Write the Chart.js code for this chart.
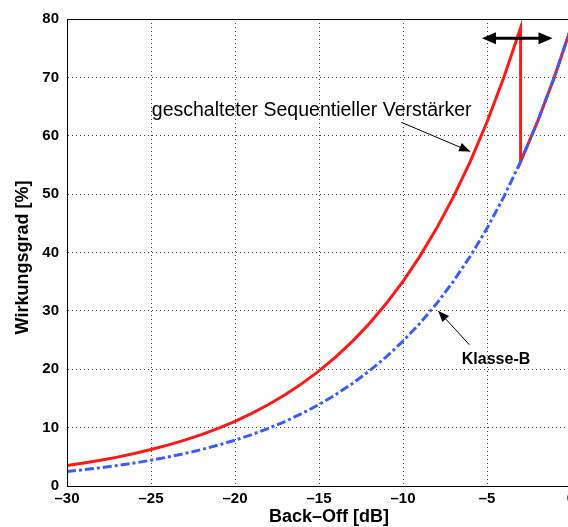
<!DOCTYPE html>
<html>
<head>
<meta charset="utf-8">
<script src="https://cdn.jsdelivr.net/npm/chart.js@4/dist/chart.umd.min.js"></script>
<style>
  html, body { margin: 0; padding: 0; background: #fff; overflow: hidden; }
</style>
</head>
<body>
<canvas id="chart" width="580" height="527"></canvas>
<script>
// Back-off in dB and efficiency in %
const backOffB = [-30, -29, -28, -27, -26, -25, -24, -23, -22, -21, -20, -19, -18, -17, -16, -15,
	-14, -13, -12, -11, -10, -9, -8, -7, -6, -5, -4, -3, -2, -1, 0]
const klasseB = [2.48, 2.79, 3.13, 3.51, 3.93, 4.41, 4.95, 5.56, 6.24, 7.00, 7.85, 8.81, 9.88, 11.09, 12.44, 13.96,
	15.66, 17.58, 19.72, 22.12, 24.82, 27.85, 31.25, 35.07, 39.34, 44.14, 49.53, 55.57, 62.35, 69.97, 78.5]

const backOffSeq = [-30, -29, -28, -27, -26, -25, -24, -23, -22, -21, -20, -19, -18, -17, -16, -15,
	-14, -13, -12, -11, -10, -9, -8, -7, -6, -5, -4, -3, -3, -2, -1, 0]
const sequentiell = [3.51, 3.93, 4.41, 4.95, 5.56, 6.24, 7.00, 7.85, 8.81, 9.88, 11.09, 12.44, 13.96, 15.66, 17.58, 19.72,
	22.12, 24.82, 27.85, 31.25, 35.07, 39.34, 44.14, 49.53, 55.57, 62.35, 69.97, 78.5, 55.57, 62.35, 69.97, 78.5]

const xTicks = [-30, -25, -20, -15, -10, -5, 0]
const yTicks = [0, 10, 20, 30, 40, 50, 60, 70, 80]

const xTitle = 'Back\u2013Off [dB]'
const yTitle = 'Wirkungsgrad [%]'

// annotations (data coordinates)
const labelSeq = { text: 'geschalteter Sequentieller Verstärker', x: -24.95, y: 63.4 }
const arrowSeq = [[-10.1, 62.3], [-6.0, 57.3]]
const labelB = { text: 'Klasse-B', x: -6.5, y: 20.9 }
const arrowB = [[-6.05, 24.2], [-7.9, 30.0]]
const rangeArrow = [[-5.3, 76.7], [-1.1, 76.7]]

const toPts = (xs, ys) => xs.map((x, i) => ({ x, y: ys[i] }))

function arrowHead(ctx, x1, y1, x2, y2, len, half) {
	const a = Math.atan2(y2 - y1, x2 - x1)
	ctx.beginPath()
	ctx.moveTo(x2, y2)
	ctx.lineTo(x2 - len * Math.cos(a) + half * Math.sin(a), y2 - len * Math.sin(a) - half * Math.cos(a))
	ctx.lineTo(x2 - len * Math.cos(a) - half * Math.sin(a), y2 - len * Math.sin(a) + half * Math.cos(a))
	ctx.closePath()
	ctx.fill()
}

const overlay = {
	id: 'overlay',
	afterDatasetsDraw(chart) {
		const { ctx, chartArea: ca, scales } = chart
		const px = (v) => scales.x.getPixelForValue(v)
		const py = (v) => scales.y.getPixelForValue(v)
		ctx.save()
		// frame
		ctx.strokeStyle = '#000'
		ctx.lineWidth = 1
		ctx.strokeRect(Math.round(ca.left) + 0.5, Math.round(ca.top) + 0.5, Math.round(ca.right - ca.left), Math.round(ca.bottom - ca.top))

		ctx.fillStyle = '#000'
		// range arrow
		let [a, b] = rangeArrow
		const ax1 = px(a[0]), ay1 = py(a[1]), ax2 = px(b[0]), ay2 = py(b[1])
		ctx.lineWidth = 3
		ctx.beginPath()
		ctx.moveTo(ax1 + 8, ay1)
		ctx.lineTo(ax2 - 8, ay2)
		ctx.stroke()
		arrowHead(ctx, ax2, ay2, ax1, ay1, 14, 6)
		arrowHead(ctx, ax1, ay1, ax2, ay2, 14, 6)

		// thin arrows
		ctx.lineWidth = 1
		for (const [p, q] of [arrowSeq, arrowB]) {
			const x1 = px(p[0]), y1 = py(p[1]), x2 = px(q[0]), y2 = py(q[1])
			ctx.beginPath()
			ctx.moveTo(x1, y1)
			ctx.lineTo(x2, y2)
			ctx.stroke()
			arrowHead(ctx, x1, y1, x2, y2, 11, 4.5)
		}

		// labels
		ctx.textBaseline = 'alphabetic'
		ctx.textAlign = 'left'
		ctx.font = '19.5px "Liberation Sans", Arial, sans-serif'
		ctx.fillText(labelSeq.text, px(labelSeq.x), py(labelSeq.y))
		ctx.font = 'bold 16px "Liberation Sans", Arial, sans-serif'
		ctx.fillText(labelB.text, px(labelB.x), py(labelB.y))

		// axis titles
		ctx.font = 'bold 18px "Liberation Sans", Arial, sans-serif'
		ctx.textAlign = 'center'
		ctx.fillText(xTitle, (ca.left + ca.right) / 2 + 10, ca.bottom + 36)
		ctx.translate(28, (ca.top + ca.bottom) / 2 + 5)
		ctx.rotate(-Math.PI / 2)
		ctx.fillText(yTitle, 0, 0)
		ctx.restore()
	},
}

const tickFont = { family: '"Liberation Sans", Arial, sans-serif', size: 15, weight: 'bold' }

new Chart(document.getElementById('chart'), {
	type: 'line',
	data: {
		datasets: [
			{
				label: 'Klasse-B',
				data: toPts(backOffB, klasseB),
				borderColor: '#3a5cff',
				borderWidth: 3,
				borderDash: [9, 3, 3, 3],
				pointRadius: 0,
				tension: 0,
			},
			{
				label: 'geschalteter Sequentieller Verstärker',
				data: toPts(backOffSeq, sequentiell),
				borderColor: '#ff1a1a',
				borderWidth: 3,
				pointRadius: 0,
				tension: 0,
			},
		],
	},
	options: {
		responsive: false,
		animation: false,
		layout: { padding: { top: 19, right: 9, bottom: 0, left: 0 } },
		plugins: { legend: { display: false }, tooltip: { enabled: false } },
		scales: {
			x: {
				type: 'linear',
				min: -30,
				max: 0,
				afterBuildTicks: (s) => { s.ticks = xTicks.map((v) => ({ value: v })) },
				afterFit: (s) => { s.height = 41 },
				ticks: {
					font: tickFont,
					color: '#000',
					padding: 4,
					callback: (v) => (v < 0 ? '\u2013' + Math.abs(v) : String(v)),
				},
				grid: { color: 'rgba(0,0,0,0.75)', lineWidth: 1, drawTicks: false },
				border: { display: true, color: '#000', width: 1, dash: [1, 3] },
			},
			y: {
				min: 0,
				max: 80,
				afterBuildTicks: (s) => { s.ticks = yTicks.map((v) => ({ value: v })) },
				afterFit: (s) => { s.width = 67 },
				ticks: { font: tickFont, color: '#000', padding: 8 },
				grid: { color: 'rgba(0,0,0,0.75)', lineWidth: 1, drawTicks: false },
				border: { display: true, color: '#000', width: 1, dash: [1, 3] },
			},
		},
	},
	plugins: [overlay],
})
</script>
</body>
</html>
